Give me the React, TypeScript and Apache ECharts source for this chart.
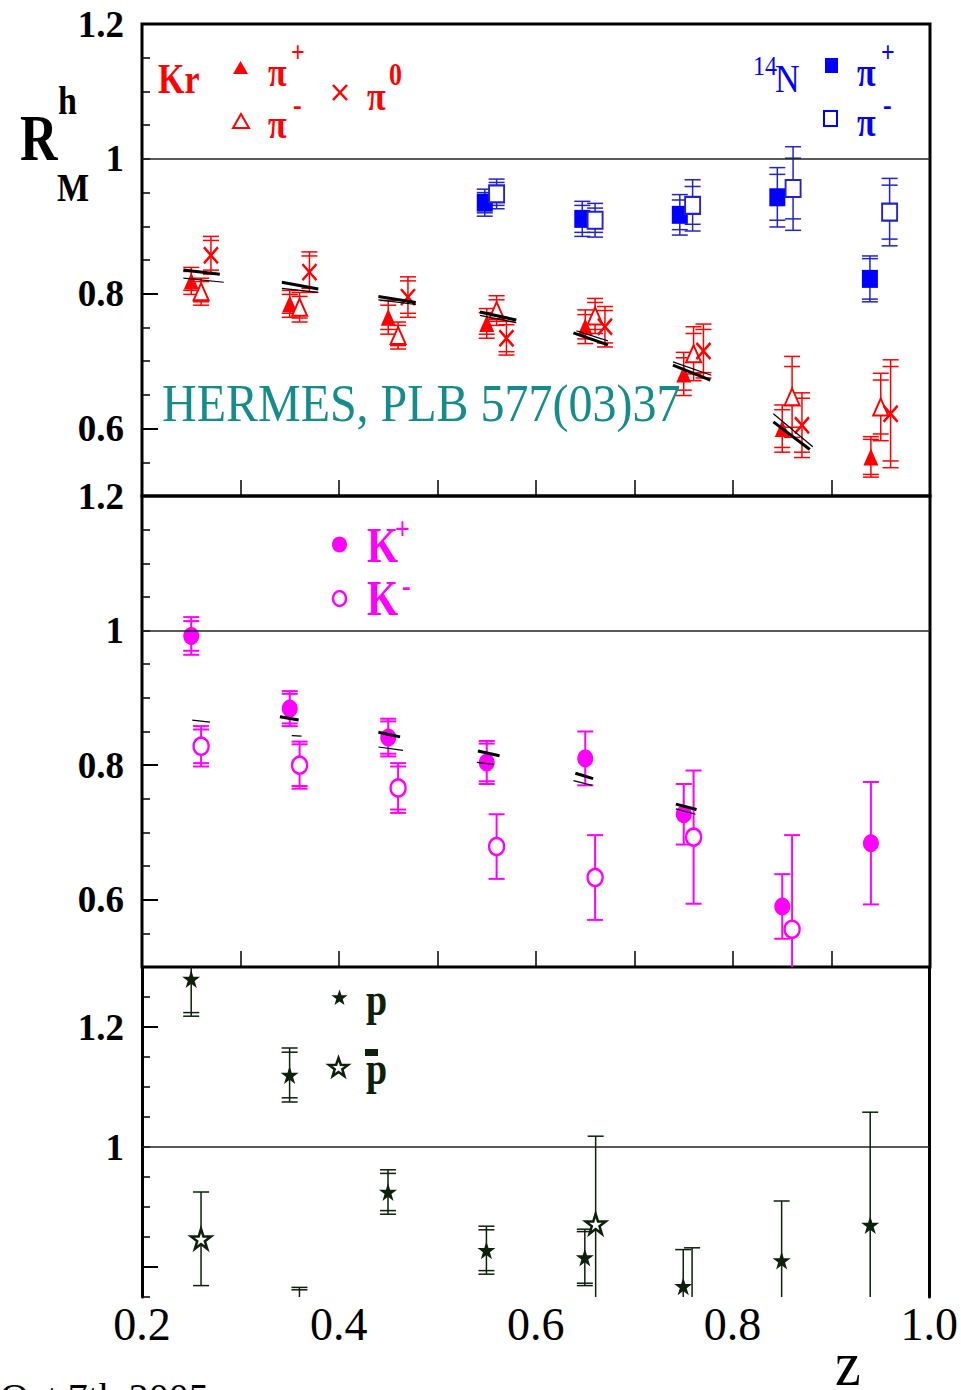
import React, { useEffect, useRef } from "react";
import * as echarts from "echarts";

// ---------- Kr target, pions (top panel) ----------
const krPiPlusZ = [0.25, 0.35, 0.45, 0.55, 0.65, 0.75, 0.85, 0.94];
const krPiPlusR = [0.819, 0.785, 0.765, 0.756, 0.751, 0.681, 0.6, 0.558];
const krPiPlusErr = [0.02, 0.02, 0.025, 0.022, 0.025, 0.032, 0.035, 0.03];
const krPiPlusStat = [0.014, 0.014, 0.018, 0.016, 0.018, 0.024, 0.028, 0.026];

const krPiMinusZ = [0.26, 0.36, 0.46, 0.56, 0.66, 0.76, 0.86, 0.95];
const krPiMinusR = [0.803, 0.78, 0.738, 0.775, 0.767, 0.711, 0.647, 0.632];
const krPiMinusErr = [0.02, 0.022, 0.02, 0.022, 0.026, 0.04, 0.06, 0.05];
const krPiMinusStat = [0.015, 0.016, 0.015, 0.016, 0.02, 0.03, 0.045, 0.04];

const krPiZeroZ = [0.27, 0.37, 0.47, 0.57, 0.67, 0.77, 0.87, 0.96];
const krPiZeroR = [0.857, 0.832, 0.795, 0.734, 0.751, 0.715, 0.605, 0.622];
const krPiZeroErr = [0.028, 0.03, 0.03, 0.025, 0.03, 0.04, 0.048, 0.08];
const krPiZeroStat = [0.022, 0.024, 0.024, 0.02, 0.024, 0.032, 0.04, 0.07];

// ---------- 14N target, pions (top panel) ----------
const nPiPlusZ = [0.548, 0.647, 0.746, 0.845, 0.939];
const nPiPlusR = [0.935, 0.911, 0.917, 0.943, 0.822];
const nPiPlusErr = [0.02, 0.026, 0.03, 0.044, 0.034];
const nPiPlusStat = [0.015, 0.02, 0.022, 0.034, 0.03];

const nPiMinusZ = [0.56, 0.66, 0.759, 0.861, 0.959];
const nPiMinusR = [0.948, 0.909, 0.931, 0.956, 0.921];
const nPiMinusErr = [0.022, 0.025, 0.038, 0.062, 0.05];
const nPiMinusStat = [0.017, 0.018, 0.028, 0.045, 0.04];

// ---------- kaons (middle panel) ----------
const kPlusZ = [0.25, 0.35, 0.45, 0.55, 0.65, 0.75, 0.85, 0.94];
const kPlusR = [0.992, 0.884, 0.841, 0.804, 0.81, 0.727, 0.59, 0.684];
const kPlusErr = [0.028, 0.026, 0.028, 0.032, 0.04, 0.045, 0.048, 0.091];
const kPlusStat = [0.022, 0.022, 0.024, 0.028, 0, 0, 0, 0];

const kMinusZ = [0.26, 0.36, 0.46, 0.56, 0.66, 0.76, 0.86];
const kMinusR = [0.828, 0.8, 0.766, 0.679, 0.633, 0.693, 0.556];
const kMinusErr = [0.03, 0.035, 0.037, 0.048, 0.063, 0.099, 0.14];
const kMinusStat = [0.025, 0.031, 0.032, 0, 0, 0, 0];

// ---------- protons / antiprotons (bottom panel) ----------
const pZ = [0.25, 0.35, 0.45, 0.55, 0.65, 0.75, 0.85, 0.94];
const pR = [1.28, 1.12, 0.925, 0.828, 0.816, 0.768, 0.811, 0.87];
const pErr = [0.062, 0.045, 0.037, 0.04, 0.047, 0.061, 0.099, 0.188];
const pStat = [0.056, 0.038, 0.031, 0.034, 0.043, 0, 0, 0];

const pbarZ = [0.26, 0.36, 0.661, 0.759];
const pbarR = [0.847, 0.68, 0.872, 0.7];
const pbarErr = [0.078, 0.086, 0.146, 0.132];
const pbarStat = [0, 0.082, 0, 0];

// ---------- model curves: [z1, R1, z2, R2] ----------
const pionModelThick = [
  [0.242, 0.835, 0.279, 0.829],
  [0.342, 0.817, 0.379, 0.807],
  [0.44, 0.796, 0.478, 0.787],
  [0.543, 0.773, 0.58, 0.761],
  [0.638, 0.742, 0.673, 0.724],
  [0.739, 0.694, 0.777, 0.672],
  [0.841, 0.61, 0.878, 0.569],
];
const pionModelThin = [
  [0.242, 0.823, 0.283, 0.817],
  [0.342, 0.808, 0.379, 0.802],
  [0.44, 0.791, 0.478, 0.784],
  [0.543, 0.768, 0.58, 0.757],
  [0.641, 0.745, 0.673, 0.73],
  [0.739, 0.699, 0.778, 0.679],
  [0.841, 0.622, 0.881, 0.573],
];
const kaonModelThick = [
  [0.34, 0.872, 0.359, 0.867],
  [0.44, 0.849, 0.462, 0.842],
  [0.541, 0.821, 0.563, 0.814],
  [0.64, 0.788, 0.658, 0.78],
  [0.742, 0.742, 0.763, 0.734],
];
const kaonModelThin = [
  [0.251, 0.867, 0.269, 0.864],
  [0.352, 0.844, 0.362, 0.843],
  [0.44, 0.827, 0.465, 0.822],
  [0.54, 0.804, 0.557, 0.801],
  [0.638, 0.777, 0.657, 0.77],
  [0.742, 0.735, 0.762, 0.727],
];

// ---------- axes ----------
const zMin = 0.2;
const zMax = 1.0;
const zLabelStep = 0.2;
const zTickStep = 0.1;
const upperRange = [0.5, 1.2];
const lowerRange = [0.75, 1.3];
const rTickStep = 0.05;
const upperLabels = [0.6, 0.8, 1, 1.2];
const upperLongTicks = [0.6, 0.8];
const lowerLabels = [1, 1.2];
const lowerLongTicks = [0.8, 1.2];
const unity = 1;

const RED = "#ff0000";
const BLUE = "#0000ff";
const BLUE_BAR = "#2323c8";
const MAGENTA = "#ff00ff";
const DARK = "#0c200c";
const TEAL = "#148c8c";
const SERIF = "'Liberation Serif', 'Times New Roman', serif";

const STAR =
  "path://M50,0 L61.2,34.5 L97.6,34.5 L68.2,55.9 L79.4,90.5 L50,69.1 L20.6,90.5 L31.8,55.9 L2.4,34.5 L38.8,34.5 Z";
const CROSS = "path://M0,0 L10,10 M10,0 L0,10";

const rows = (z: number[], r: number[], e: number[], s: number[]) =>
  z.map((zz, i) => [zz, r[i], e[i], s[i]]);

function errorBars(
  grid: number,
  data: number[][],
  color: string,
  width: number,
  cap: number
) {
  return {
    type: "custom",
    xAxisIndex: grid,
    yAxisIndex: grid === 2 ? 4 : grid * 2,
    clip: true,
    silent: true,
    z: 2,
    data,
    encode: { x: 0, y: 1 },
    renderItem: (_p: any, api: any) => {
      const x = api.value(0);
      const v = api.value(1);
      const e = api.value(2);
      const s = api.value(3);
      const hi = api.coord([x, v + e]);
      const lo = api.coord([x, v - e]);
      const style = { stroke: color, lineWidth: width, fill: null };
      const seg = (x1: number, y1: number, x2: number, y2: number) => ({
        type: "line",
        shape: { x1, y1, x2, y2 },
        style,
      });
      const children: any[] = [
        seg(hi[0], hi[1], lo[0], lo[1]),
        seg(hi[0] - cap, hi[1], hi[0] + cap, hi[1]),
        seg(lo[0] - cap, lo[1], lo[0] + cap, lo[1]),
      ];
      if (s > 0) {
        const sh = api.coord([x, v + s]);
        const sl = api.coord([x, v - s]);
        children.push(seg(sh[0] - cap, sh[1], sh[0] + cap, sh[1]));
        children.push(seg(sl[0] - cap, sl[1], sl[0] + cap, sl[1]));
      }
      return { type: "group", children };
    },
  };
}

function markers(
  grid: number,
  data: number[][],
  symbol: string,
  size: number | number[],
  itemStyle: any,
  extra: any = {}
) {
  return {
    type: "scatter",
    xAxisIndex: grid,
    yAxisIndex: grid === 2 ? 4 : grid * 2,
    clip: true,
    silent: true,
    z: 3,
    symbol,
    symbolSize: size,
    itemStyle: { opacity: 1, ...itemStyle },
    data: data.map((d) => [d[0], d[1]]),
    ...extra,
  };
}

function modelLines(grid: number, segs: number[][], width: number) {
  return {
    type: "lines",
    coordinateSystem: "cartesian2d",
    xAxisIndex: grid,
    yAxisIndex: grid * 2,
    silent: true,
    z: 4,
    polyline: false,
    lineStyle: { color: "#000", width, opacity: 1, curveness: 0 },
    data: segs.map((s) => ({ coords: [[s[0], s[1]], [s[2], s[3]]] })),
  };
}

const unityLine = {
  silent: true,
  symbol: ["none", "none"],
  label: { show: false },
  lineStyle: { color: "#222", width: 1.5, type: "solid" },
  data: [{ yAxis: unity }],
};

function yAxes(grid: number, range: number[], labels: number[], longTicks: number[]) {
  const base = {
    gridIndex: grid,
    type: "value",
    position: "left",
    min: range[0],
    max: range[1],
    interval: rTickStep,
    splitLine: { show: false },
  };
  return [
    {
      ...base,
      axisLine: { show: grid === 2, lineStyle: { color: "#000", width: 3 } },
      axisTick: { show: true, inside: true, length: 8, lineStyle: { color: "#000", width: 1.5 } },
      axisLabel: {
        show: true,
        customValues: labels,
        fontSize: 37,
        fontWeight: "bold",
        fontFamily: SERIF,
        color: "#000",
        margin: 18,
      },
    },
    {
      ...base,
      axisLine: { show: false },
      axisTick: {
        show: true,
        inside: true,
        length: 16,
        customValues: longTicks,
        lineStyle: { color: "#000", width: 2 },
      },
      axisLabel: { show: false },
    },
  ];
}

function txt(
  text: string,
  x: number,
  y: number,
  size: number,
  color: string,
  bold = true,
  scaleY = 1.2
) {
  return {
    type: "text",
    x,
    y,
    scaleY,
    silent: true,
    z: 10,
    style: {
      text,
      fill: color,
      fontSize: size,
      fontWeight: bold ? "bold" : "normal",
      fontFamily: SERIF,
      textAlign: "left",
      textVerticalAlign: "middle",
    },
  };
}

function starPoints(cx: number, cy: number, r: number) {
  const pts: number[][] = [];
  for (let i = 0; i < 10; i++) {
    const a = -Math.PI / 2 + (i * Math.PI) / 5;
    const rr = i % 2 === 0 ? r : r * 0.4;
    pts.push([cx + rr * Math.cos(a), cy + rr * Math.sin(a)]);
  }
  return pts;
}

export default function App() {
  const ref = useRef<HTMLDivElement>(null);

  useEffect(() => {
    document.body.style.margin = "0";
    if (!ref.current) return;
    const chart = echarts.init(ref.current, undefined, { renderer: "svg" });

    const grids = [
      { left: 142, right: 31, top: 24, height: 472 },
      { left: 142, right: 31, top: 496, height: 471 },
      { left: 142, right: 31, top: 967, height: 330 },
    ].map((g, i) => ({
      ...g,
      show: i < 2,
      borderColor: "#000",
      borderWidth: 3,
      backgroundColor: "transparent",
      containLabel: false,
    }));

    const innerX = (grid: number) => ({
      gridIndex: grid,
      type: "value",
      min: zMin,
      max: zMax,
      interval: zTickStep,
      axisLine: { show: false },
      axisTick: { show: true, inside: true, length: 16, lineStyle: { color: "#000", width: 1.5 } },
      axisLabel: { show: false },
      splitLine: { show: false },
    });

    const option: any = {
      animation: false,
      backgroundColor: "#fff",
      grid: grids,
      xAxis: [
        innerX(0),
        innerX(1),
        {
          gridIndex: 2,
          type: "value",
          min: zMin,
          max: zMax,
          interval: zLabelStep,
          axisLine: { show: false },
          axisTick: { show: false },
          splitLine: { show: false },
          axisLabel: {
            show: true,
            showMinLabel: true,
            showMaxLabel: true,
            fontSize: 46,
            fontFamily: SERIF,
            color: "#000",
            margin: 4,
            formatter: (v: number) => v.toFixed(1),
          },
        },
      ],
      yAxis: [
        ...yAxes(0, upperRange, upperLabels, upperLongTicks),
        ...yAxes(1, upperRange, upperLabels, upperLongTicks),
        ...yAxes(2, lowerRange, lowerLabels, lowerLongTicks),
        {
          gridIndex: 2,
          type: "value",
          position: "right",
          min: lowerRange[0],
          max: lowerRange[1],
          interval: rTickStep,
          axisLine: { show: true, lineStyle: { color: "#000", width: 3 } },
          axisTick: { show: false },
          axisLabel: { show: false },
          splitLine: { show: false },
        },
      ],
      series: [
        // top panel: pions
        errorBars(0, rows(krPiPlusZ, krPiPlusR, krPiPlusErr, krPiPlusStat), RED, 1.5, 8),
        errorBars(0, rows(krPiMinusZ, krPiMinusR, krPiMinusErr, krPiMinusStat), RED, 1.5, 8),
        errorBars(0, rows(krPiZeroZ, krPiZeroR, krPiZeroErr, krPiZeroStat), RED, 1.5, 8),
        errorBars(0, rows(nPiPlusZ, nPiPlusR, nPiPlusErr, nPiPlusStat), BLUE_BAR, 1.5, 8),
        errorBars(0, rows(nPiMinusZ, nPiMinusR, nPiMinusErr, nPiMinusStat), BLUE_BAR, 1.5, 8),
        markers(0, rows(krPiPlusZ, krPiPlusR, krPiPlusErr, krPiPlusStat), "triangle", [15, 17], { color: RED }, { markLine: unityLine }),
        markers(0, rows(krPiMinusZ, krPiMinusR, krPiMinusErr, krPiMinusStat), "triangle", [15, 17], { color: "#fff", borderColor: RED, borderWidth: 2 }),
        markers(0, rows(krPiZeroZ, krPiZeroR, krPiZeroErr, krPiZeroStat), CROSS, [14, 16], { color: "rgba(0,0,0,0)", borderColor: RED, borderWidth: 2.5 }),
        markers(0, rows(nPiPlusZ, nPiPlusR, nPiPlusErr, nPiPlusStat), "rect", [16, 18], { color: BLUE }),
        markers(0, rows(nPiMinusZ, nPiMinusR, nPiMinusErr, nPiMinusStat), "rect", [15, 17], { color: "#fff", borderColor: BLUE_BAR, borderWidth: 2 }),
        modelLines(0, pionModelThin, 1.2),
        modelLines(0, pionModelThick, 3),

        // middle panel: kaons
        errorBars(1, rows(kPlusZ, kPlusR, kPlusErr, kPlusStat), MAGENTA, 2, 8),
        errorBars(1, rows(kMinusZ, kMinusR, kMinusErr, kMinusStat), MAGENTA, 2, 8),
        markers(1, rows(kPlusZ, kPlusR, kPlusErr, kPlusStat), "circle", [16, 18], { color: MAGENTA }, { markLine: unityLine }),
        markers(1, rows(kMinusZ, kMinusR, kMinusErr, kMinusStat), "circle", [15, 17], { color: "#fff", borderColor: MAGENTA, borderWidth: 2.5 }),
        modelLines(1, kaonModelThin, 1.2),
        modelLines(1, kaonModelThick, 3),

        // bottom panel: protons
        errorBars(2, rows(pZ, pR, pErr, pStat), DARK, 1.5, 8),
        errorBars(2, rows(pbarZ, pbarR, pbarErr, pbarStat), DARK, 1.5, 8),
        markers(2, rows(pZ, pR, pErr, pStat), STAR, 18, { color: DARK }, { markLine: unityLine }),
        markers(2, rows(pbarZ, pbarR, pbarErr, pbarStat), STAR, 20, { color: "#fff", borderColor: DARK, borderWidth: 2.5 }),
      ],
      graphic: [
        // ordinate title R_M^h
        txt("R", 20, 138, 52, "#000", true, 1.25),
        txt("h", 58, 100, 34, "#000"),
        txt("M", 57, 187, 34, "#000"),
        // Kr legend
        txt("Kr", 158, 79, 34, RED, true, 1.25),
        { type: "polygon", silent: true, z: 10, shape: { points: [[233, 74], [248, 74], [240.5, 61]] }, style: { fill: RED } },
        txt("π", 268, 72, 34, RED),
        txt("+", 291, 52, 24, RED),
        { type: "polygon", silent: true, z: 10, shape: { points: [[233, 128], [249, 128], [241, 114]] }, style: { fill: "#fff", stroke: RED, lineWidth: 2 } },
        txt("π", 268, 124, 34, RED),
        txt("-", 293, 104, 26, RED),
        { type: "line", silent: true, z: 10, shape: { x1: 333, y1: 85, x2: 347, y2: 100 }, style: { stroke: RED, lineWidth: 2.5 } },
        { type: "line", silent: true, z: 10, shape: { x1: 347, y1: 85, x2: 333, y2: 100 }, style: { stroke: RED, lineWidth: 2.5 } },
        txt("π", 367, 96, 34, RED),
        txt("0", 389, 74, 26, RED),
        // 14N legend
        txt("14", 753, 66, 24, BLUE, false, 1.15),
        txt("N", 775, 78, 34, BLUE, false, 1.2),
        { type: "rect", silent: true, z: 10, shape: { x: 825, y: 58, width: 13, height: 15 }, style: { fill: BLUE } },
        txt("π", 857, 72, 34, BLUE),
        txt("+", 881, 52, 24, BLUE),
        { type: "rect", silent: true, z: 10, shape: { x: 824, y: 111, width: 13, height: 15 }, style: { fill: "#fff", stroke: BLUE, lineWidth: 2 } },
        txt("π", 857, 122, 34, BLUE),
        txt("-", 883, 104, 26, BLUE),
        // reference
        txt("HERMES, PLB 577(03)37", 162, 403, 48, TEAL, false, 1.1),
        // kaon legend
        { type: "ellipse", silent: true, z: 10, shape: { cx: 339.5, cy: 544.5, rx: 7.5, ry: 8 }, style: { fill: MAGENTA } },
        txt("K", 367, 545, 40, MAGENTA, true, 1.25),
        txt("+", 395, 528, 26, MAGENTA),
        { type: "ellipse", silent: true, z: 10, shape: { cx: 339.5, cy: 598.5, rx: 6.5, ry: 7.5 }, style: { fill: "#fff", stroke: MAGENTA, lineWidth: 2.5 } },
        txt("K", 367, 598, 40, MAGENTA, true, 1.25),
        txt("-", 402, 585, 26, MAGENTA),
        // proton legend
        { type: "polygon", silent: true, z: 10, shape: { points: starPoints(339.5, 998, 8.5) }, style: { fill: DARK } },
        txt("p", 366, 1000, 38, DARK),
        { type: "polygon", silent: true, z: 10, shape: { points: starPoints(338.5, 1068, 10) }, style: { fill: "#fff", stroke: DARK, lineWidth: 2.5 } },
        txt("p", 366, 1069, 38, DARK),
        { type: "rect", silent: true, z: 10, shape: { x: 365, y: 1049, width: 13, height: 7 }, style: { fill: DARK } },
        // abscissa title and date
        txt("z", 835, 1364, 58, "#000", false, 1.1),
        txt("Oct 7th 2005", 0, 1397, 40, "#000", false, 1),
      ],
    };

    chart.setOption(option);
    return () => chart.dispose();
  }, []);

  return <div ref={ref} style={{ width: 961, height: 1390 }} />;
}
